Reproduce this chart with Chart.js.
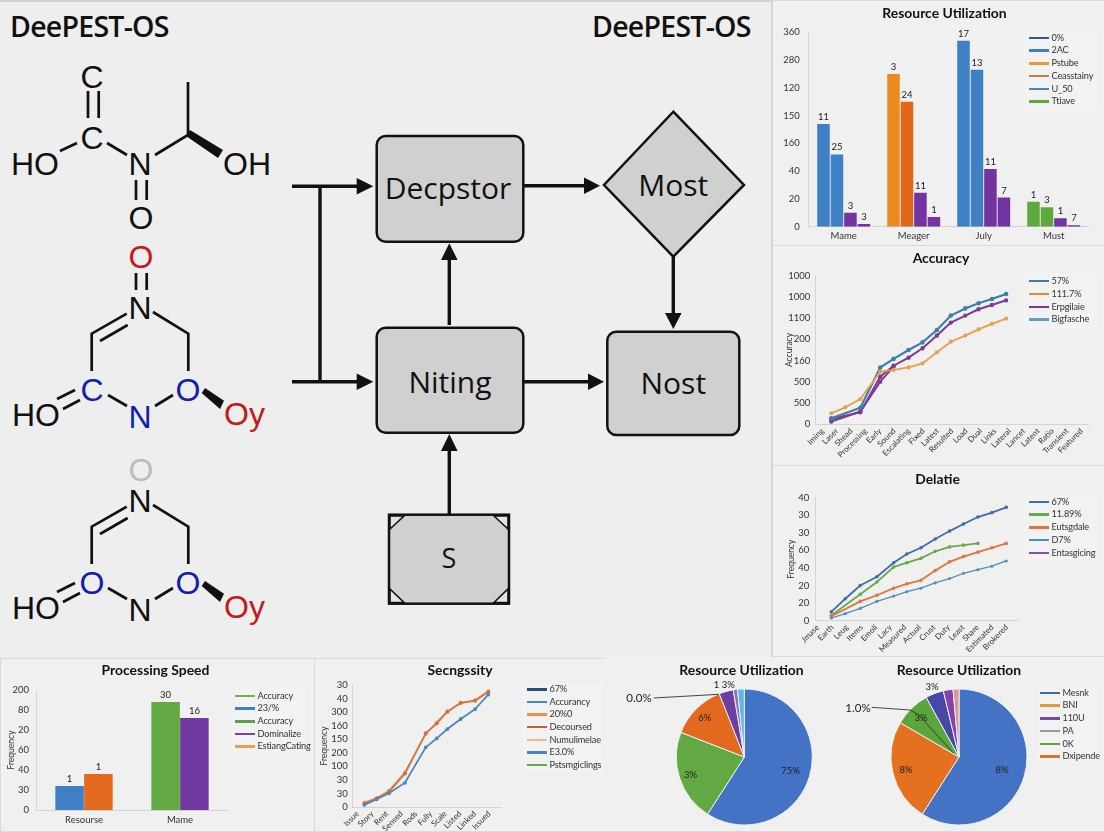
<!DOCTYPE html>
<html>
<head>
<meta charset="utf-8">
<title>DeePEST-OS</title>
<script src="https://cdn.jsdelivr.net/npm/chart.js@4/dist/chart.umd.min.js"></script>
<style>
  html, body { margin: 0; padding: 0; }
  body { width: 1104px; height: 832px; position: relative; overflow: hidden; background: #eeeeee; font-family: "Liberation Sans", sans-serif; }
  .panel { position: absolute; box-sizing: border-box; border: 1px solid #d9d9d9; background: #f0f0f0; }
  canvas { position: absolute; filter: blur(0.4px); }
  svg { position: absolute; left: 0; top: 0; }
  .legend { position: absolute; background: #f2f2f2; filter: blur(0.4px); }
  .legend .row { position: absolute; white-space: nowrap; color: #333; font: 9.2px Lato, sans-serif; letter-spacing: -0.15px; }
  .legend .swatch { position: absolute; height: 2.5px; }
  .legend .name { position: absolute; line-height: 12px; }
  .head { position: absolute; font: 600 28.5px "Open Sans", sans-serif; color: #111; letter-spacing: -0.75px; line-height: 32px; }
</style>
</head>
<body>

<div class="panel" style="left:-2px;top:0;width:775px;height:832px;border:2px solid #d2d2d2;border-bottom:0;background:#eeeeee"></div>
<div class="panel" style="left:772px;top:0;width:334px;height:246px"></div>
<div class="panel" style="left:772px;top:245px;width:334px;height:221px"></div>
<div class="panel" style="left:772px;top:465px;width:334px;height:192px"></div>
<div class="panel" style="left:0;top:658px;width:315px;height:174px"></div>
<div class="panel" style="left:314px;top:658px;width:294px;height:174px"></div>
<div class="panel" style="left:607px;top:657px;width:499px;height:175px;border-top-color:#f0f0f0;border-left-color:#f0f0f0"></div>

<div class="head" style="left:10px;top:10px">DeePEST-OS</div>
<div class="head" style="left:592px;top:10px">DeePEST-OS</div>

<svg width="1104" height="832" font-family="Liberation Sans" font-size="32">
  <defs>
    <g id="ring">
      <g stroke="#111" stroke-width="2.7" fill="none">
        <path d="M126.7 506.7L91.7 526.7V564M127.7 518L100 534M153 505L188.3 526.7V564"/>
        <path d="M108 588L127 599M155 599L173 588M57 592L75 583M63 602L80 593"/>
      </g>
      <path d="M201.7 586L205 581L224 593.7L220 602Z" fill="#111"/>
      <text x="12" y="619" fill="#111">HO</text>
      <text x="224" y="618" fill="#c41a1a">Oy</text>
    </g>
  </defs>

  <!-- top molecule -->
  <g stroke="#111" stroke-width="2.7" fill="none">
    <path d="M88 91V118M98.7 91V118M60 151L77 143M107 143L127 155M155 155L188 135V82M136 180V200M146.7 180V200"/>
  </g>
  <path d="M186 136L190 130L223 150L218 158Z" fill="#111"/>
  <g fill="#111" text-anchor="middle">
    <text x="92" y="88">C</text>
    <text x="92" y="149">C</text>
    <text x="140" y="175">N</text>
    <text x="141" y="229">O</text>
  </g>
  <text x="11" y="175" fill="#111">HO</text>
  <text x="223" y="175" fill="#111">OH</text>

  <!-- middle ring -->
  <text x="141" y="268" fill="#c41a1a" text-anchor="middle">O</text>
  <path d="M136 273V290M146.7 273V290" stroke="#111" stroke-width="2.7" fill="none"/>
  <use href="#ring" y="-193"/>
  <g text-anchor="middle">
    <text x="140" y="319" fill="#111">N</text>
    <text x="92" y="401" fill="#0f1fb0">C</text>
    <text x="140" y="428" fill="#0f1fb0">N</text>
    <text x="188" y="401" fill="#0f1fb0">O</text>
  </g>

  <!-- bottom ring -->
  <text x="141" y="481" fill="#bcbcbc" text-anchor="middle">O</text>
  <use href="#ring"/>
  <g text-anchor="middle">
    <text x="140" y="512" fill="#111">N</text>
    <text x="92" y="594" fill="#0f1fb0">O</text>
    <text x="140" y="621" fill="#111">N</text>
    <text x="188" y="594" fill="#0f1fb0">O</text>
  </g>

  <!-- flow diagram -->
  <g stroke="#111" stroke-width="2.5" fill="#d0d0d0">
    <rect x="376.7" y="136" width="146.6" height="105.7" rx="9"/>
    <rect x="376.7" y="327.7" width="146.6" height="105" rx="9"/>
    <rect x="607.3" y="331.7" width="132" height="103.3" rx="9"/>
    <path d="M673.3 111.7L744 185L673.3 256.7L604 185Z"/>
    <rect x="389" y="514.7" width="120" height="89"/>
  </g>
  <path d="M390 529L404 516H390ZM494 516L508 529V516ZM390 589L404 602.5H390ZM494 602.5L508 589V602.5Z" fill="#e4e4e4" stroke="#111" stroke-width="1.6"/>
  <g stroke="#111" stroke-width="3.4" fill="none">
    <path d="M292 186.3H358M292 381.7H358M320 186.3V381.7M449.3 325V259M449.3 514V451M523 185.7H586M523 381.7H590M673.3 256.7V314"/>
  </g>
  <g fill="#111">
    <path d="M356.7 178L373.3 186.3L356.7 194.6Z"/>
    <path d="M356.7 373.4L373.3 381.7L356.7 390Z"/>
    <path d="M441 260L449.3 243.3L457.6 260Z"/>
    <path d="M441 451L449.3 434L457.6 451Z"/>
    <path d="M584 177.4L600 185.7L584 194Z"/>
    <path d="M588 373.4L604 381.7L588 390Z"/>
    <path d="M665 313L673.3 329L681.6 313Z"/>
  </g>
  <g font-family="Open Sans" fill="#111" text-anchor="middle" font-size="30">
    <text x="448" y="199">Decpstor</text>
    <text x="450" y="393">Niting</text>
    <text x="673.3" y="196">Most</text>
    <text x="673.3" y="394">Nost</text>
    <text x="449" y="568" font-size="27">S</text>
  </g>
</svg>

<div id="charts"></div>

<svg width="1104" height="832" font-family="Lato" fill="#222" font-size="11.5" style="filter:blur(0.3px)">
  <text x="639" y="701.5" text-anchor="middle">0.0%</text>
  <path d="M653.7 698L719 694.3" stroke="#444" stroke-width="1" fill="none"/>
  <text x="858" y="712" text-anchor="middle">1.0%</text>
  <path d="M871.7 707.3L910 710Q918 713 923.3 720L953.3 753" stroke="#333" stroke-width="0.9" fill="none"/>
</svg>

<script>
// resource bars
const resourceCategories = ["Mame", "Meager", "July", "Must"];
const resourceYTicks = ["0", "20", "40", "160", "150", "120", "280", "360"];
const resourceBarA = [74, 110, 134, 18];
const resourceBarB = [52, 90, 113, 14];
const resourceBarC = [10, 24.5, 41.5, 6];
const resourceBarD = [2, 7, 21, 1];
const resourceColA = ["#3f7fc4", "#ed8a1f", "#3f7fc4", "#5fa83f"];
const resourceColB = ["#3f7fc4", "#e0661a", "#3f7fc4", "#5fa83f"];
const resourcePurple = "#7433a3";
const resourceNums = [["11", "3", "17", "1"], ["25", "24", "13", "3"], ["3", "11", "11", "1"], ["3", "1", "7", "7"]];
const resourceLegend = ["0%", "2AC", "Pstube", "Ceasstainy", "U_50", "Ttiave"];
const resourceLegendCol = ["#2f5a94", "#3f7fc4", "#ed9b2f", "#c97a55", "#4d86b8", "#5fa83f"];

// accuracy lines
const accuracyXLabels = ["Iming", "Laser", "Shead", "Processing", "Early", "Sound", "Escalating", "Fixed", "Latest", "Resulted", "Load", "Dual", "Links", "Lateral", "Lancet", "Latent", "Ratio", "Transient", "Featured"];
const accuracyYTicks = ["0", "500", "500", "160", "200", "1100", "1000", "1000"];
const accuracyX = [0.61, 1.58, 2.63, 4.01, 4.94, 5.98, 6.95, 7.95, 8.92, 9.92, 10.84, 11.77, 12.76];
const accuracyBlue = [28, null, 78, 267, 308, 350, 386, 444, 512, 546, 570, 590, 614];
const accuracyPurple = [25, null, 57, 224, 276, 314, 358, 418, 479, 512, 542, 562, 584];
const accuracyOrange = [52, 80, 119, 248, 256, 268, 287, 339, 389, 418, 447, 473, 498];
const accuracyLow = [13, null, 60, 201, 272];
const accuracyLegend = ["57%", "111.7%", "Erpgilaie", "Bigfasche"];
const accuracyLegendCol = ["#3e7ea8", "#e48a32", "#7a3a95", "#5f9fc0"];

// delate lines
const delateXLabels = ["Jmase", "Earth", "Leug", "Items", "Emoli", "Lacy", "Measured", "Actual", "Crust", "Duty", "Least", "Share", "Estimated", "Brokered"];
const delateYTicks = ["0", "20", "20", "40", "60", "30", "30", "40"];
const delateX = [0.92, 1.88, 2.91, 4.06, 5.21, 6.12, 7.09, 8.07, 9.06, 10.02, 11.01, 11.97, 12.96];
const delateBlue = [10, 25, 40, 50, 66, 76, 83, 93, 102, 110, 118, 123, 129];
const delateGreen = [6, null, 30, 44, 61, 66, 71, 79, 84, 86, 88];
const delateOrange = [5, null, 22, 29, 37, 42, 46, 57, 67, 73, 78, 83, 88];
const delateLight = [3, 8, 14, 22, 28, 33, 37, 43, 48, 54, 58, 62, 68];
const delateLegend = ["67%", "11.89%", "Eutsgdale", "D7%", "Entasgicing"];
const delateLegendCol = ["#3d6fa8", "#6aa84a", "#e0743a", "#4d90a8", "#8a4fa8"];

// processing speed bars
const speedCategories = ["Resourse", "Mame"];
const speedYTicks = ["0", "30", "40", "60", "20", "80", "200"];
const speedFirst = [24, 108];
const speedSecond = [36, 92];
const speedColFirst = ["#3f7fc4", "#62a843"];
const speedColSecond = ["#e2691e", "#7038a0"];
const speedNums = [["1", "30"], ["1", "16"]];
const speedLegend = ["Accuracy", "23/%", "Accuracy", "Dominalize", "EstiangCating"];
const speedLegendCol = ["#6fb04f", "#3f7fc4", "#5fa03f", "#7a3fa0", "#ed9b4f"];

// sensitivity lines
const sensXLabels = ["Issue", "Story", "Rent", "Sensed", "Rods", "Fully", "Scale", "Listed", "Linked", "Issued"];
const sensYTicks = ["0", "30", "30", "100", "200", "150", "160", "300", "40", "30"];
const sensX = [0.46, 1.3, 2.14, 3.23, 4.65, 5.4, 6.13, 7.04, 8.02, 8.93];
const sensOrange = [2.7, 6.4, 11.3, 24.8, 54.3, 61.7, 70.3, 76.9, 78.4, 85];
const sensBlue = [1.5, 5.7, 10.1, 17.9, 44, 50.6, 57.5, 64.9, 72.2, 83];
const sensLight = [3.7, 6.9, 12.5, 26, 53.6, 62.9, 70.8, 76.2, 79.1, 86];
const sensLegend = ["67%", "Accurancy", "20%0", "Decoursed", "Numulimelae", "E3.0%", "Pstsmgiclings"];
const sensLegendCol = ["#2a4a80", "#4a86c0", "#e8904f", "#c9602a", "#f0b898", "#4a86c0", "#6aa84a"];

// pies
const pieOneValues = [59.1, 21.8, 13.1, 3.4, 1.0, 1.6];
const pieOneCol = ["#4472c4", "#62a843", "#e2691e", "#6a3fa0", "#8f6fc0", "#5fb4e8"];
const pieOneNums = ["75%", "3%", "6%", "1 3%", "", ""];
const pieOneLabelAt = [0.71, 0.83, 0.82, 1.1, 1, 1];
const pieTwoValues = [59.1, 24.3, 8.6, 4.3, 2.3, 1.4];
const pieTwoCol = ["#4472c4", "#e5701f", "#5aa63c", "#4747a8", "#8a3fb0", "#d89a90"];
const pieTwoNums = ["8%", "8%", "3%", "3%", "", ""];
const pieTwoLabelAt = [0.66, 0.8, 0.8, 1.1, 1, 1];
const pieLegend = ["Mesnk", "BNI", "110U", "PA", "0K", "Dxipende"];
const pieLegendCol = ["#3a6ea5", "#e8963a", "#7a4a9c", "#999999", "#5fa03f", "#e0702a"];

const tickFont = { family: "Lato", size: 9.5 };
const titleFont = { family: "Lato", size: 13.9, weight: "bold", lineHeight: 1.2 };
const axisLine = "#d4d4d4";

// centre each title on its canvas, not on the padded box
Chart.register({
  id: "titleOnCanvas",
  afterLayout(chart) {
    if (chart.titleBlock) {
      chart.titleBlock.left = 0;
      chart.titleBlock.right = chart.width;
    }
  }
});

// numbers above the bars
const barNumbers = {
  id: "barNumbers",
  afterDatasetsDraw(chart, args, opts) {
    if (!opts.nums) return;
    const ctx = chart.ctx;
    ctx.save();
    ctx.font = "9.5px Lato";
    ctx.fillStyle = "#222";
    ctx.textAlign = "center";
    opts.nums.forEach((list, d) => {
      chart.getDatasetMeta(d).data.forEach((bar, i) => {
        ctx.fillText(list[i], bar.x, bar.y - 4);
      });
    });
    ctx.restore();
  }
};

// percent labels on the pie slices
const sliceNumbers = {
  id: "sliceNumbers",
  afterDatasetsDraw(chart, args, opts) {
    if (!opts.nums) return;
    const ctx = chart.ctx;
    ctx.save();
    ctx.font = "9.5px Lato";
    ctx.fillStyle = "#222";
    ctx.textAlign = "center";
    ctx.textBaseline = "middle";
    chart.getDatasetMeta(0).data.forEach((arc, i) => {
      if (!opts.nums[i]) return;
      const mid = (arc.startAngle + arc.endAngle) / 2;
      const r = arc.outerRadius * opts.at[i];
      ctx.fillText(opts.nums[i], arc.x + Math.cos(mid) * r, arc.y + Math.sin(mid) * r);
    });
    ctx.restore();
  }
};

function addLegend(box, names, colors, rows) {
  const el = document.createElement("div");
  el.className = "legend";
  el.style.cssText = `left:${box.x}px;top:${box.y}px;width:${box.w}px;height:${box.h}px`;
  names.forEach((name, i) => {
    const row = document.createElement("div");
    row.className = "row";
    row.style.cssText = `left:0;top:${rows.first - box.y + i * rows.step}px`;
    row.innerHTML = `<div class="swatch" style="left:${rows.swatch - box.x}px;width:20px;top:-1px;background:${colors[i]}"></div>` +
      `<div class="name" style="left:${rows.swatch - box.x + 22.5}px;top:-6px">${name}</div>`;
    el.appendChild(row);
  });
  document.body.appendChild(el);
}

function addCanvas(box) {
  const canvas = document.createElement("canvas");
  canvas.width = box.w;
  canvas.height = box.h;
  canvas.style.cssText = `left:${box.x}px;top:${box.y}px;width:${box.w}px;height:${box.h}px`;
  document.getElementById("charts").appendChild(canvas);
  return canvas;
}

function titleFor(text, box, plot, titleY) {
  const half = titleFont.size * titleFont.lineHeight / 2;
  return {
    display: true,
    text: text,
    color: "#111",
    font: titleFont,
    padding: { top: titleY - box.y - half, bottom: plot.t - titleY - half }
  };
}

function cartesianOptions(s) {
  return {
    responsive: false,
    animation: false,
    layout: { padding: { left: s.yTitle ? s.yTitleAt - s.box.x : 0, right: s.box.x + s.box.w - s.plot.r, top: 0, bottom: 0 } },
    plugins: {
      legend: { display: false },
      tooltip: { enabled: false },
      title: titleFor(s.title, s.box, s.plot, s.titleY),
      barNumbers: { nums: s.nums }
    },
    scales: {
      x: Object.assign({
        grid: { display: false, drawTicks: false },
        border: { color: axisLine },
        afterFit: a => { a.height = s.box.y + s.box.h - s.plot.b; a.paddingLeft = 0; a.paddingRight = 0; }
      }, s.xAxis),
      y: {
        min: 0,
        max: (s.yTicks.length - 1) * s.step,
        grid: { display: false, drawTicks: false },
        border: { color: axisLine },
        title: s.yTitle ? { display: true, text: s.yTitle, color: "#333", font: { family: "Lato", size: 8.5 }, padding: 0 } : { display: false },
        ticks: {
          stepSize: s.step,
          autoSkip: false,
          color: "#333",
          font: tickFont,
          padding: s.yPad,
          callback: v => s.yTicks[Math.round(v / s.step)]
        },
        afterFit: a => {
          a.width = s.plot.l - s.box.x - (s.yTitle ? s.yTitleAt - s.box.x : 0);
          a.paddingTop = 0;
          a.paddingBottom = 0;
        }
      }
    }
  };
}

function barChart(s, categories, datasets) {
  const xAxis = { ticks: { color: "#333", font: tickFont, padding: 4 } };
  new Chart(addCanvas(s.box), {
    type: "bar",
    data: { labels: categories, datasets: datasets },
    options: cartesianOptions(Object.assign({ xAxis: xAxis }, s)),
    plugins: [barNumbers]
  });
}

function lineChart(s, xLabels, xs, series) {
  const xAxis = {
    type: "linear",
    min: s.xMin,
    max: s.xMax,
    afterBuildTicks: a => { a.ticks = xLabels.map((_, i) => ({ value: i })); },
    ticks: {
      color: "#333",
      font: { family: "Lato", size: 8 },
      autoSkip: false,
      minRotation: 45,
      maxRotation: 45,
      padding: 2,
      callback: v => xLabels[v]
    }
  };
  const datasets = series.map(d => ({
    data: d.values.map((v, i) => ({ x: xs[i], y: v })),
    borderColor: d.color,
    backgroundColor: d.color,
    borderWidth: d.width,
    pointRadius: d.point,
    spanGaps: true,
    tension: 0
  }));
  new Chart(addCanvas(s.box), {
    type: "line",
    data: { datasets: datasets },
    options: cartesianOptions(Object.assign({ xAxis: xAxis }, s))
  });
}

function pieChart(s, values, colors, nums, at) {
  new Chart(addCanvas(s.box), {
    type: "pie",
    data: { datasets: [{ data: values, backgroundColor: colors, borderColor: "#eef2f2", borderWidth: 1 }] },
    options: {
      responsive: false,
      animation: false,
      layout: { padding: { left: s.plot.l - s.box.x, right: s.box.x + s.box.w - s.plot.r, top: 0, bottom: s.box.y + s.box.h - s.plot.b } },
      plugins: {
        legend: { display: false },
        tooltip: { enabled: false },
        title: titleFor(s.title, s.box, s.plot, s.titleY),
        sliceNumbers: { nums: nums, at: at }
      }
    },
    plugins: [sliceNumbers]
  });
}

barChart({
  title: "Resource Utilization", titleY: 14,
  box: { x: 778, y: 1, w: 333, h: 244 },
  plot: { l: 808.7, r: 1088.7, t: 32.3, b: 226.7 },
  yTicks: resourceYTicks, step: 20, yPad: 9, nums: resourceNums
}, resourceCategories, [
  { data: resourceBarA, backgroundColor: resourceColA, categoryPercentage: 0.77, barPercentage: 0.93 },
  { data: resourceBarB, backgroundColor: resourceColB, categoryPercentage: 0.77, barPercentage: 0.93 },
  { data: resourceBarC, backgroundColor: resourcePurple, categoryPercentage: 0.77, barPercentage: 0.93 },
  { data: resourceBarD, backgroundColor: resourcePurple, categoryPercentage: 0.77, barPercentage: 0.93 }
]);
addLegend({ x: 1024, y: 31, w: 73, h: 79 }, resourceLegend, resourceLegendCol, { first: 37.7, step: 12.7, swatch: 1029 });

lineChart({
  title: "Accuracy", titleY: 259,
  box: { x: 778, y: 246, w: 326, h: 219 },
  plot: { l: 815.3, r: 1088.7, t: 275.7, b: 424.3 },
  yTicks: accuracyYTicks, step: 100, yPad: 5, yTitle: "Accuracy", yTitleAt: 784,
  xMin: -0.5, xMax: 18.5
}, accuracyXLabels, accuracyX, [
  { values: accuracyOrange, color: "#e8a04a", width: 1.8, point: 1.2 },
  { values: accuracyBlue, color: "#3e80a8", width: 2.2, point: 1.2 },
  { values: accuracyLow, color: "#7a3a95", width: 2, point: 1.2 },
  { values: accuracyPurple, color: "#7a3a95", width: 2, point: 1.2 }
]);
addLegend({ x: 1024, y: 273, w: 73, h: 55 }, accuracyLegend, accuracyLegendCol, { first: 280.7, step: 12.9, swatch: 1029 });

lineChart({
  title: "Delatie", titleY: 479.5,
  box: { x: 772, y: 466, w: 331, h: 190 },
  plot: { l: 815.3, r: 1017, t: 497.7, b: 620.7 },
  yTicks: delateYTicks, step: 20, yPad: 6, yTitle: "Frequency", yTitleAt: 786,
  xMin: -0.18, xMax: 13.7
}, delateXLabels, delateX, [
  { values: delateLight, color: "#4d90b8", width: 1.3, point: 0.9 },
  { values: delateOrange, color: "#e0743a", width: 1.8, point: 0.9 },
  { values: delateGreen, color: "#6aa84a", width: 1.8, point: 0.9 },
  { values: delateBlue, color: "#3d6fa8", width: 1.8, point: 0.9 }
]);
addLegend({ x: 1024, y: 495, w: 73, h: 65 }, delateLegend, delateLegendCol, { first: 501.7, step: 12.7, swatch: 1029 });

barChart({
  title: "Processing Speed", titleY: 671,
  box: { x: 1, y: 659, w: 309, h: 172 },
  plot: { l: 36, r: 228, t: 690, b: 810 },
  yTicks: speedYTicks, step: 20, yPad: 7, yTitle: "Frequency", yTitleAt: 6, nums: speedNums
}, speedCategories, [
  { data: speedFirst, backgroundColor: speedColFirst, categoryPercentage: 0.6, barPercentage: 0.99 },
  { data: speedSecond, backgroundColor: speedColSecond, categoryPercentage: 0.6, barPercentage: 0.99 }
]);
addLegend({ x: 232, y: 688, w: 73, h: 65 }, speedLegend, speedLegendCol, { first: 695.7, step: 12.65, swatch: 235 });

lineChart({
  title: "Secngssity", titleY: 671,
  box: { x: 316, y: 659, w: 288, h: 172 },
  plot: { l: 352.7, r: 501.7, t: 685, b: 807 },
  yTicks: sensYTicks, step: 10, yPad: 5, yTitle: "Frequency", yTitleAt: 319,
  xMin: -0.34, xMax: 9.84
}, sensXLabels, sensX, [
  { values: sensBlue, color: "#4a86c0", width: 1.8, point: 1 },
  { values: sensOrange, color: "#d8703a", width: 1.8, point: 1.2 },
  { values: sensLight, color: "#f0b080", width: 1.2, point: 0.9 }
]);
addLegend({ x: 522, y: 683, w: 80, h: 89 }, sensLegend, sensLegendCol, { first: 689.3, step: 12.55, swatch: 527 });

pieChart({
  title: "Resource Utilization", titleY: 671,
  box: { x: 640, y: 657, w: 203, h: 173 },
  plot: { l: 675.8, r: 812.8, t: 688.5, b: 825.5 }
}, pieOneValues, pieOneCol, pieOneNums, pieOneLabelAt);

pieChart({
  title: "Resource Utilization", titleY: 671,
  box: { x: 860, y: 657, w: 198, h: 173 },
  plot: { l: 890.5, r: 1027.5, t: 688.5, b: 825.5 }
}, pieTwoValues, pieTwoCol, pieTwoNums, pieTwoLabelAt);
addLegend({ x: 1037, y: 686, w: 62, h: 74 }, pieLegend, pieLegendCol, { first: 692.7, step: 12.7, swatch: 1040 });
</script>
</body>
</html>
